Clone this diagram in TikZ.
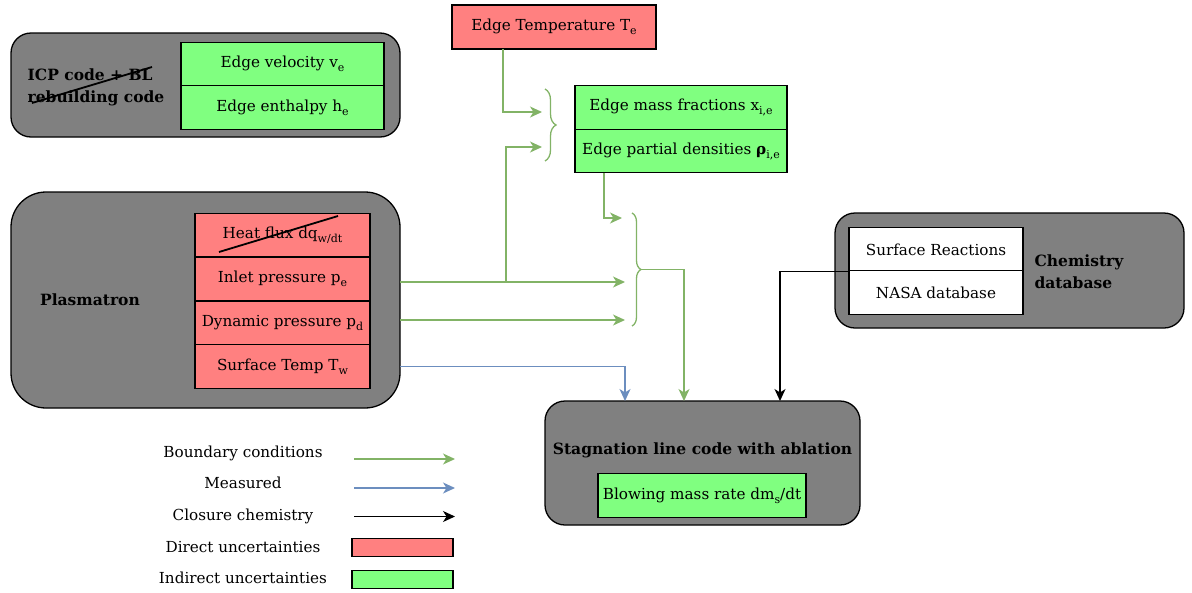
\documentclass[tikz,border=0pt]{standalone}
\usepackage{fontspec}
\setmainfont{DejaVu Serif}
\usetikzlibrary{arrows.meta,decorations.pathreplacing,calc}
\definecolor{redf}{HTML}{FF8080}
\definecolor{greenf}{HTML}{80FF80}
\definecolor{grayf}{HTML}{808080}
\definecolor{gline}{HTML}{82B366}
\definecolor{bline}{HTML}{6C8EBF}
\newcommand\sbs[1]{\raisebox{-0.5ex}{\fontsize{11}{11}\selectfont #1}}
\begin{document}
\begin{tikzpicture}[x=1pt,y=-1pt,
  font=\fontsize{15.2}{18}\selectfont,
  every node/.style={inner sep=0pt, outer sep=0pt},
  cont/.style={draw=black, line width=1.3pt, fill=grayf, rounded corners=#1},
  cell/.style={draw=black, line width=1.2pt, minimum width=#1, minimum height=43.5, align=center},
  rcell/.style={cell=#1, fill=redf},
  gcell/.style={cell=#1, fill=greenf},
  wcell/.style={cell=#1, fill=white},
  ttl/.style={font=\fontsize{15.5}{22}\selectfont\bfseries, align=left},
  tip/.style={-{Stealth[length=12pt,width=11pt,inset=3.5pt]}},
  garrow/.style={draw=gline, line width=1.3pt, tip},
  barrow/.style={draw=bline, line width=1.3pt, tip},
  karrow/.style={draw=black, line width=1.3pt, tip},
  gbrace/.style={draw=gline, line width=1.3pt, decorate, decoration={brace, amplitude=#1}},
  strike/.style={draw=black, line width=1.8pt},
  legbox/.style={draw=black, line width=1.2pt, minimum width=101, minimum height=18.5},
  lbl/.style={font=\fontsize{15.2}{18}\selectfont}
]
\useasboundingbox (0,0) rectangle (1192,592);

% ICP container
\node[cont=20pt, minimum width=389, minimum height=104] (icp) at (205.5,85) {};
\node[gcell=203] (vel) at (282.5,64) {Edge velocity v\sbs{e}};
\node[gcell=203] (enth) at (282.5,107.5) {Edge enthalpy h\sbs{e}};
\node[ttl] (icpt) at (96,87) {ICP code + BL\\rebuilding code};
\draw[strike] (32,103) -- (152,67);

% Plasmatron container
\node[cont=35pt, minimum width=389, minimum height=216] (plas) at (205.5,300) {};
\node[ttl] (plast) at (90,300) {Plasmatron};
\node[rcell=175] (heat) at (282.5,235) {Heat flux dq\sbs{w/dt}};
\node[rcell=175] (inlet) at (282.5,279) {Inlet pressure p\sbs{e}};
\node[rcell=175] (dyn) at (282.5,323) {Dynamic pressure p\sbs{d}};
\node[rcell=175] (tw) at (282.5,366.5) {Surface Temp T\sbs{w}};
\draw[strike] (219,252) -- (338,216);

% Edge temperature
\node[rcell=204, minimum height=44] (te) at (554,27) {Edge Temperature T\sbs{e}};

% Edge mass fractions / densities
\node[gcell=212] (xie) at (681,107.5) {Edge mass fractions x\sbs{i,e}};
\node[gcell=212] (rho) at (681,151) {Edge partial densities {\bfseries ρ}\sbs{i,e}};

% Chemistry database
\node[cont=20pt, minimum width=349, minimum height=115] (chem) at (1009.5,270.5) {};
\node[wcell=174] (surf) at (936,249.5) {Surface Reactions};
\node[wcell=174] (nasa) at (936,292.5) {NASA database};
\node[ttl] (chemt) at (1079,272) {Chemistry\\database};

% Stagnation line code
\node[cont=20pt, minimum width=315, minimum height=124] (stag) at (702.5,463) {};
\node[ttl] (stagt) at (702.5,450) {Stagnation line code with ablation};
\node[gcell=208] (blow) at (702,495.5) {Blowing mass rate dm\sbs{s}/dt};

% braces
\draw[gbrace=11pt] (545,89) -- (545,161);
\draw[gbrace=9pt] (632,213) -- (632,326);
\coordinate (b1a) at (542,112);
\coordinate (b1b) at (542,147);
\coordinate (b2a) at (622,218);
\coordinate (b2b) at (625,282);
\coordinate (b2c) at (625,320);
\coordinate (br2tip) at (641,269.5);
\coordinate (j1) at (506,282);

% connectors
\draw[garrow] ([xshift=-51pt]te.south) |- (b1a);
\draw[garrow] (plas.east |- b2b) -- (b2b);
\draw[garrow] (j1) |- (b1b);
\draw[garrow] ([xshift=29pt]rho.south west) |- (b2a);
\draw[garrow] (plas.east |- b2c) -- (b2c);
\draw[garrow] (br2tip) -| ([xshift=-18.5pt]stag.north);
\draw[barrow] (plas.east |- tw) -| ([xshift=-77.5pt]stag.north);
\draw[karrow] (surf.south west) -| ([xshift=77.5pt]stag.north);

% legend
\node[lbl] (l1) at (243,453) {Boundary conditions};
\node[lbl] (l2) at (243,483) {Measured};
\node[lbl] (l3) at (243,516) {Closure chemistry};
\node[lbl] (l4) at (243,547) {Direct uncertainties};
\node[lbl] (l5) at (243,578) {Indirect uncertainties};
\coordinate (a1s) at (354,459); \coordinate (a1e) at (455,459);
\coordinate (a2s) at (354,488); \coordinate (a2e) at (455,488);
\coordinate (a3s) at (354,516.5); \coordinate (a3e) at (455,516.5);
\draw[garrow] (a1s) -- (a1e);
\draw[barrow] (a2s) -- (a2e);
\draw[karrow] (a3s) -- (a3e);
\node[legbox, fill=redf] (r1) at (402.5,547.5) {};
\node[legbox, fill=greenf] (r2) at (402.5,579.5) {};
\end{tikzpicture}
\end{document}
